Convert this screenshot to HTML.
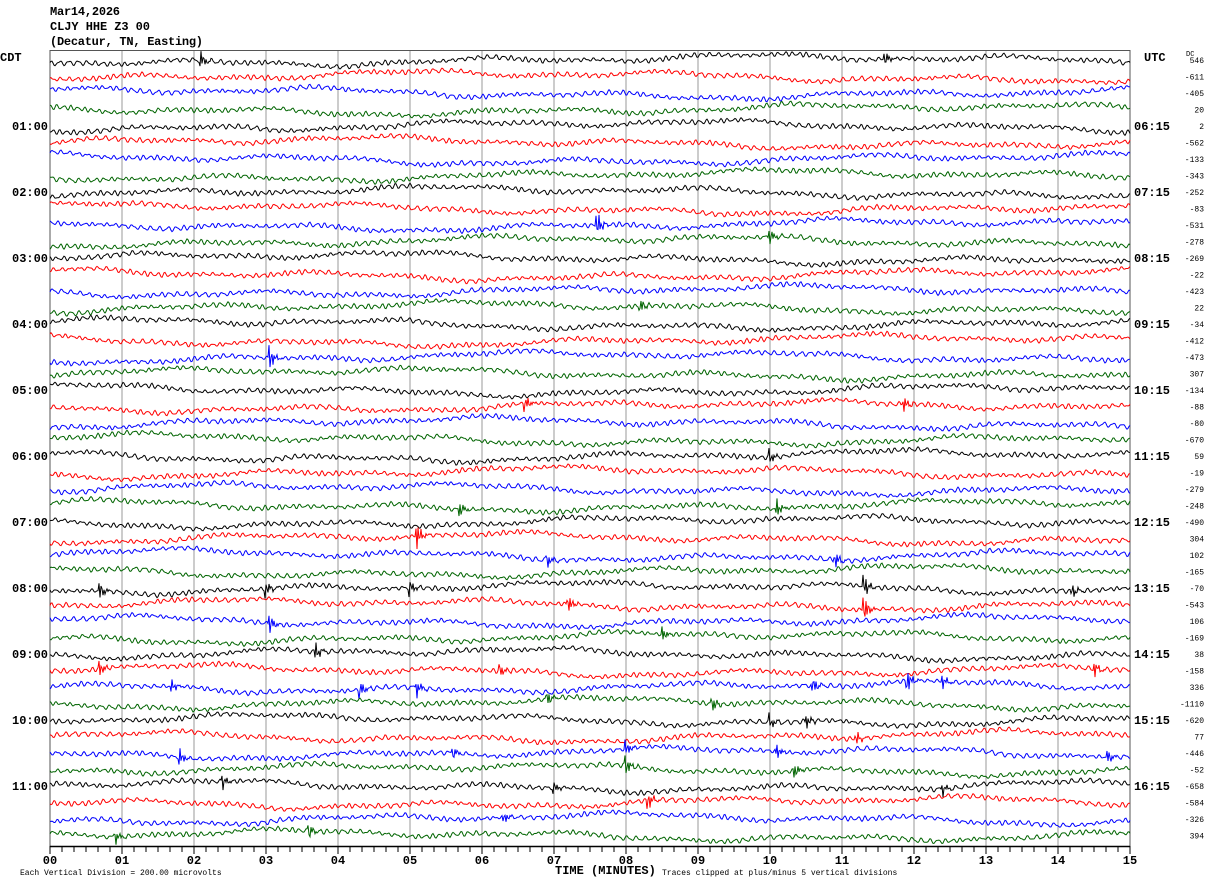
<!DOCTYPE html>
<html><head><meta charset="utf-8"><style>
body{margin:0;background:#fff;width:1210px;height:886px;overflow:hidden;font-family:"Liberation Mono",monospace}
svg{position:absolute;left:0;top:0}
text{font-family:"Liberation Mono",monospace}
</style></head><body>
<svg id="chart" width="1210" height="886" viewBox="0 0 1210 886">
<g font-size="12" font-weight="bold" fill="#000">
<text x="50" y="15" textLength="70">Mar14,2026</text>
<text x="50" y="30" textLength="100">CLJY HHE Z3 00</text>
<text x="50" y="45" textLength="153">(Decatur, TN, Easting)</text>
<text x="0" y="61">CDT</text>
<text x="1144" y="61">UTC</text>
<text x="1186" y="56" font-size="7" font-weight="normal">DC</text>
</g>
<g id="grid"></g>
<g id="traces"></g>
<g id="labels"></g>
<g id="axis"></g>
<text x="555" y="874" font-size="12" font-weight="bold">TIME (MINUTES)</text>
<text x="20" y="875" font-size="8">Each Vertical Division =  200.00 microvolts</text>
<text x="662" y="875" font-size="8">Traces clipped at plus/minus 5 vertical divisions</text>
</svg>
<script>
const dcValues=[546,-611,-405,20,2,-562,-133,-343,-252,-83,-531,-278,-269,-22,-423,22,-34,-412,-473,307,-134,-88,-80,-670,59,-19,-279,-248,-490,304,102,-165,-70,-543,106,-169,38,-158,336,-1110,-620,77,-446,-52,-658,-584,-326,394];
const cdtLabels=["01:00","02:00","03:00","04:00","05:00","06:00","07:00","08:00","09:00","10:00","11:00"];
const utcLabels=["06:15","07:15","08:15","09:15","10:15","11:15","12:15","13:15","14:15","15:15","16:15"];
const minuteTicks=["00","01","02","03","04","05","06","07","08","09","10","11","12","13","14","15"];
const traceColors=["#000000","#ff0000","#0000ff","#006400"];
const eventTrace=[0,0,10,11,15,18,21,21,24,27,27,29,30,30,32,32,32,32,32,33,33,34,35,36,37,37,37,38,38,38,38,38,38,39,39,40,40,41,42,42,42,42,42,43,43,44,44,44,45,46,47,47];
const eventMinute=[2.1,11.6,7.6,10.0,8.2,3.05,6.6,11.85,10.0,5.7,10.1,5.1,6.9,10.9,0.7,3.0,5.0,11.3,14.2,7.2,11.3,3.05,8.5,3.7,0.7,6.25,14.5,1.7,4.3,5.1,10.6,11.9,12.4,6.9,9.2,10.0,10.5,11.2,1.8,5.6,8.0,10.1,14.7,8.0,10.35,2.4,7.0,12.4,8.3,6.3,0.9,3.6];
const eventAmp=[8,7,13,8,7,13,8,9,7,7,9,13,8,10,8,8,8,14,7,9,16,10,8,8,7,7,9,6,10,8,8,14,7,8,8,7,8,7,9,6,8,7,6,10,7,7,6,6,11,7,8,7];

const NS="http://www.w3.org/2000/svg";
const X0=50,X1=1130,Y0=60,DY=16.5;
const xs=m=>X0+m*(X1-X0)/15;
const ys=i=>Y0+i*DY;
function mk(tag,attrs,parent){const e=document.createElementNS(NS,tag);for(const k in attrs)e.setAttribute(k,attrs[k]);parent.appendChild(e);return e;}
const grid=document.getElementById('grid'),tr=document.getElementById('traces'),lab=document.getElementById('labels'),ax=document.getElementById('axis');
for(let m=0;m<=15;m++){
  const l=mk('line',{x1:xs(m),x2:xs(m),y1:50,y2:846,stroke:(m==0||m==15)?'#555':'#999','stroke-width':1},grid);
  
  
}
const tl=mk('line',{x1:50,x2:1130,y1:50.5,y2:50.5,stroke:'#555'},grid);


for(let i=0;i<dcValues.length;i++){
  const y0=ys(i);let d='';
  const p1=i*1.7,p2=i*0.9,p3=i*2.3;
  for(let x=X0;x<=X1;x++){
    const t=(x-X0)/72;
    let v=2.0*Math.sin(x*0.8+p1+2.5*Math.sin(x*0.047+p2))*(0.5+0.5*Math.abs(Math.sin(x*0.021+p3)))
      +0.8*Math.sin(x*1.3+p3)
      +3.5*Math.sin(x*0.006+p2*2)+2.5*Math.sin(x*0.023+p1)+1.2*Math.sin(x*0.061+p3);
    for(let k=0;k<eventTrace.length;k++){
      if(eventTrace[k]!==i)continue;
      const dt=t-eventMinute[k];
      if(dt>-0.02&&dt<0.2){v+=eventAmp[k]*Math.exp(-Math.max(dt,0)*18)*Math.sin(x*2.4);}
    }
    v=Math.max(-14,Math.min(14,v));
    d+=(x==X0?'M':'L')+x+','+(y0+v).toFixed(1);
  }
  const p=mk('path',{d:d,fill:'none',stroke:traceColors[i%4],'stroke-width':1},tr);
  
  
  const dc=mk('text',{x:1204,y:ys(i)+3,'font-size':8,'text-anchor':'end'},lab);
  dc.textContent=dcValues[i];
  
  
}
for(let h=0;h<cdtLabels.length;h++){
  const y=ys((h+1)*4)+4;
  const a=mk('text',{x:12,y:y,'font-size':12,'font-weight':'bold'},lab);a.textContent=cdtLabels[h];
  
  
  const b=mk('text',{x:1134,y:y,'font-size':12,'font-weight':'bold'},lab);b.textContent=utcLabels[h];
  
  
}
const al=mk('line',{x1:50,x2:1130,y1:846.5,y2:846.5,stroke:'#000','stroke-width':1.5},ax);


for(let s=0;s<=90;s++){
  const x=X0+s*12;
  const t=mk('line',{x1:x,x2:x,y1:846,y2:s%6==0?854:852,stroke:'#000'},ax);
  
  
}
minuteTicks.forEach((lbl,m)=>{
  const t=mk('text',{x:xs(m),y:864,'font-size':12,'font-weight':'bold','text-anchor':'middle'},ax);
  t.textContent=lbl;
  
  
});
</script>
</body></html>
